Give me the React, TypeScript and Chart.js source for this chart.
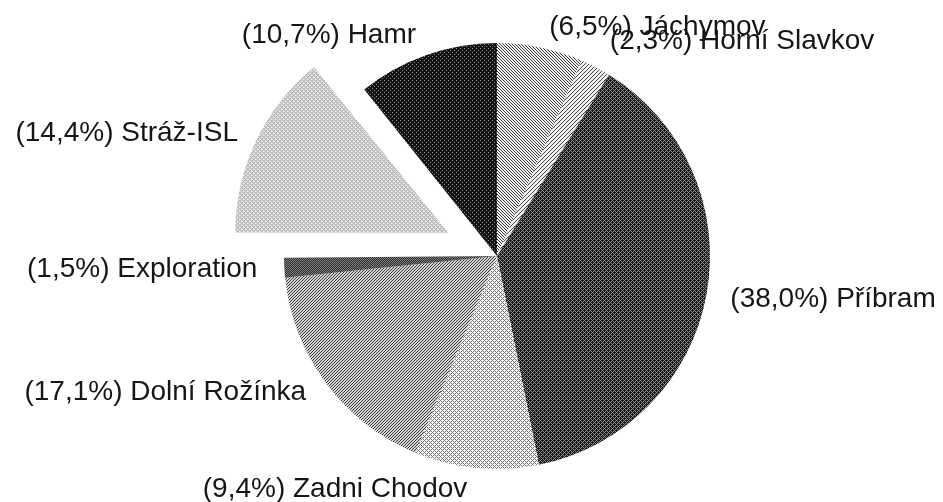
import React, { useEffect, useRef } from "react";
import { Chart, registerables } from "chart.js";

Chart.register(...registerables);

// ---- data ----
const categories = [
  "Jáchymov",
  "Horní Slavkov",
  "Příbram",
  "Zadni Chodov",
  "Dolní Rožínka",
  "Exploration",
  "Stráž-ISL",
  "Hamr",
];
const shares = [6.5, 2.3, 38.0, 9.4, 17.1, 1.5, 14.4, 10.7];
const exploded = [0, 0, 0, 0, 0, 0, 1, 0];

// ---- style ----
const RADIUS = 213;
const EXPLODE_PX = 54; // visual translation of an exploded slice
const LABEL_GAP = 20;
const FONT_SIZE = 28;
const FONT = `${FONT_SIZE}px "Liberation Sans", Arial, sans-serif`;
// per-label nudges [dx, dy]
const labelNudges: [number, number][] = [
  [5, -1],
  [5, -8],
  [4, 2],
  [-7, 1],
  [-4, -3],
  [-7, 0],
  [0, 1],
  [-4, -1],
];

type PatDef = { size: number; bg: string; fg: string; on: (x: number, y: number) => boolean };
const patternDefs: PatDef[] = [
  // Jáchymov: light with "\" hatch
  { size: 3, bg: "#f2f2f2", fg: "#3a3a3a", on: (x, y) => (x - y + 9) % 3 === 0 },
  // Horní Slavkov: lighter "/" hatch
  { size: 4, bg: "#f0f0f0", fg: "#4a4a4a", on: (x, y) => (x + y) % 4 === 0 },
  // Příbram: dark with diamond grid
  { size: 4, bg: "#1a1a1a", fg: "#8c8c8c", on: (x, y) => (x + y) % 4 === 0 || (x - y + 8) % 4 === 0 },
  // Zadni Chodov: light dotted
  { size: 4, bg: "#f8f8f8", fg: "#7a7a7a", on: (x, y) => (x + y) % 4 === 0 || (x - y + 8) % 4 === 0 },
  // Dolní Rožínka: medium "/" hatch
  { size: 3, bg: "#d4d4d4", fg: "#3a3a3a", on: (x, y) => (x + y) % 3 === 0 },
  // Exploration: dark checker
  { size: 2, bg: "#2e2e2e", fg: "#7e7e7e", on: (x, y) => (x + y) % 2 === 0 },
  // Stráž-ISL: light diamond dots
  { size: 4, bg: "#f4f4f4", fg: "#8a8a8a", on: (x, y) => (x + y) % 4 === 0 || (x - y + 8) % 4 === 0 },
  // Hamr: very dark with sparse light dots
  { size: 4, bg: "#141414", fg: "#8a8a8a", on: (x, y) => (x + y) % 4 === 0 && y % 2 === 0 },
];

function makePattern(ctx: CanvasRenderingContext2D, d: PatDef): CanvasPattern | string {
  const c = document.createElement("canvas");
  c.width = d.size;
  c.height = d.size;
  const p = c.getContext("2d")!;
  p.fillStyle = d.bg;
  p.fillRect(0, 0, d.size, d.size);
  p.fillStyle = d.fg;
  for (let y = 0; y < d.size; y++)
    for (let x = 0; x < d.size; x++) if (d.on(x, y)) p.fillRect(x, y, 1, 1);
  return ctx.createPattern(c, "repeat") || d.bg;
}

function labelText(i: number) {
  return `(${shares[i].toFixed(1).replace(".", ",")}%) ${categories[i]}`;
}

const fixExplodedRadius = {
  id: "fixExplodedRadius",
  beforeDatasetsDraw(chart: any) {
    const meta = chart.getDatasetMeta(0);
    meta.data.forEach((arc: any, i: number) => {
      if (!exploded[i]) return;
      const off = EXPLODE_PX;
      const circ = arc.endAngle - arc.startAngle;
      const fix = 1 - Math.sin(Math.min(Math.PI, circ || 0));
      arc.outerRadius = RADIUS - off * fix;
    });
  },
};

const outLabels = {
  id: "outLabels",
  afterDatasetsDraw(chart: any) {
    const meta = chart.getDatasetMeta(0);
    const ctx: CanvasRenderingContext2D = chart.ctx;
    ctx.save();
    ctx.font = FONT;
    ctx.fillStyle = "#161616";
    ctx.textBaseline = "middle";
    meta.data.forEach((arc: any, i: number) => {
      const mid = (arc.startAngle + arc.endAngle) / 2;
      const off = exploded[i] ? EXPLODE_PX : 0;
      const cx = arc.x + Math.cos(mid) * off;
      const cy = arc.y + Math.sin(mid) * off;
      const r = RADIUS + LABEL_GAP;
      const ax = cx + Math.cos(mid) * r;
      const ay = cy + Math.sin(mid) * r;
      ctx.textAlign = Math.cos(mid) >= 0 ? "left" : "right";
      const [dx, dy] = labelNudges[i];
      ctx.fillText(labelText(i), ax + dx, ay + dy);
    });
    ctx.restore();
  },
};

export default function App() {
  const ref = useRef<HTMLCanvasElement>(null);
  useEffect(() => {
    const canvas = ref.current!;
    const ctx = canvas.getContext("2d")!;
    const fills = patternDefs.map((d) => makePattern(ctx, d));
    const chart = new Chart(canvas, {
      type: "pie",
      data: {
        labels: categories,
        datasets: [
          {
            data: shares,
            backgroundColor: fills as any,
            borderWidth: 0,
            offset: exploded.map((e) => e * EXPLODE_PX * 4) as any,
            hoverOffset: 0,
            radius: RADIUS,
            clip: false as any,
          } as any,
        ],
      },
      options: {
        animation: false,
        responsive: false,
        events: [],
        layout: { padding: { left: 51, right: 0, top: 10, bottom: 0 } },
        plugins: {
          legend: { display: false },
          tooltip: { enabled: false },
        },
      },
      plugins: [fixExplodedRadius, outLabels],
    });
    return () => chart.destroy();
  }, []);
  return (
    <div style={{ position: "absolute", left: 0, top: 0, width: 943, height: 502, background: "#fff" }}>
      <canvas ref={ref} width={943} height={502} style={{ width: 943, height: 502, display: "block" }} />
    </div>
  );
}
